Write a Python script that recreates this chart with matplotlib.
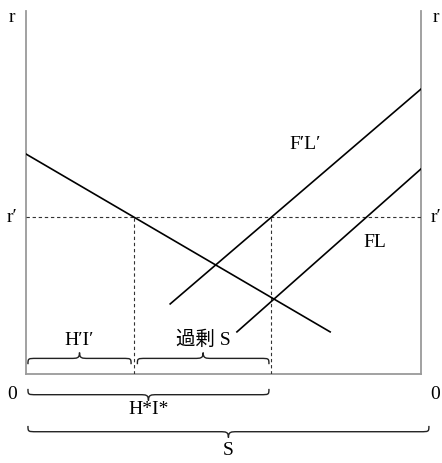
import matplotlib
matplotlib.use("Agg")
import matplotlib.pyplot as plt
from matplotlib.path import Path
from matplotlib.patches import PathPatch

plt.rcParams['font.family'] = ['Liberation Serif', 'Noto Sans CJK JP']
plt.rcParams['font.size'] = 14

# chart data (x: quantity 0..10, y: interest rate 0..10)
curve_names = ["HI", "F'L'", "FL"]
curve_x = [[0.0, 7.70], [3.65, 10.0], [5.34, 10.0]]
curve_y = [[6.06, 1.16], [1.93, 7.85], [1.16, 5.65]]
r_prime = 4.33
x_hi = 2.73      # H'I'
x_fl = 6.20      # F'L' at r'
x_max = 10.0

brace_spans = [(0.05, 2.66), (2.82, 6.15), (0.05, 6.15), (0.05, 10.2)]
brace_base = [0.27, 0.27, -0.41, -1.43]
brace_dir = [1, 1, -1, -1]
brace_labels = ["H\u2032I\u2032", "過剰 S", "H*I*", "S"]
label_y = [0.96, 0.96, -0.96, -2.07]

fig = plt.figure(figsize=(4.42, 4.64), dpi=100)
ax = fig.add_axes([26/442, 89/464, 395/442, 363/464])
ax.set_xlim(0, x_max)
ax.set_ylim(0, 10)
ax.axis('off')

gray = '#9a9a9a'
ax.plot([0, 0], [0, 10], color=gray, lw=1.3, clip_on=False)
ax.plot([x_max, x_max], [0, 10], color=gray, lw=1.3, clip_on=False)
ax.plot([0, x_max], [0, 0], color=gray, lw=1.3, clip_on=False)

ax.plot([0, x_max], [r_prime, r_prime], color='#333333', lw=0.8, ls=(0, (3, 2.5)))
for xv in [x_hi, x_fl]:
    ax.plot([xv, xv], [0, r_prime], color='#333333', lw=0.8, ls=(0, (3, 2.5)))

for xs, ys in zip(curve_x, curve_y):
    ax.plot(xs, ys, color='black', lw=1.2)


def brace(xa, xb, y0, s, h=0.32, q=0.22):
    yb = y0 + s * h * 0.5
    yt = y0 + s * h
    xm = (xa + xb) / 2
    verts = [(xa, y0), (xa, yb), (xa, yb), (xa + q, yb),
             (xm - q, yb),
             (xm - 0.3 * q, yb), (xm, yb), (xm, yt),
             (xm, yb), (xm + 0.3 * q, yb), (xm + q, yb),
             (xb - q, yb),
             (xb, yb), (xb, yb), (xb, y0)]
    codes = [Path.MOVETO, Path.CURVE4, Path.CURVE4, Path.CURVE4,
             Path.LINETO,
             Path.CURVE4, Path.CURVE4, Path.CURVE4,
             Path.CURVE4, Path.CURVE4, Path.CURVE4,
             Path.LINETO,
             Path.CURVE4, Path.CURVE4, Path.CURVE4]
    ax.add_patch(PathPatch(Path(verts, codes), fill=False, lw=1.0,
                           color='#222222', clip_on=False))


for (xa, xb), yb, s, lab, ly in zip(brace_spans, brace_base, brace_dir,
                                    brace_labels, label_y):
    brace(xa, xb, yb, s)
    ax.text((xa + xb) / 2, ly, lab, ha='center', va='center', clip_on=False)

# curve labels
ax.text(7.06, 6.34, "F\u2032L\u2032", ha='center', va='center')
ax.text(8.84, 3.64, "FL", ha='center', va='center')

# axis labels
for xl in [-0.36, 10.37]:
    ax.text(xl, 9.84, "r", ha='center', va='center', clip_on=False)
    ax.text(xl, r_prime, "r\u2032", ha='center', va='center', clip_on=False)
    ax.text(xl, -0.55, "0", ha='center', va='center', clip_on=False)

fig.savefig("out.png", dpi=100)
